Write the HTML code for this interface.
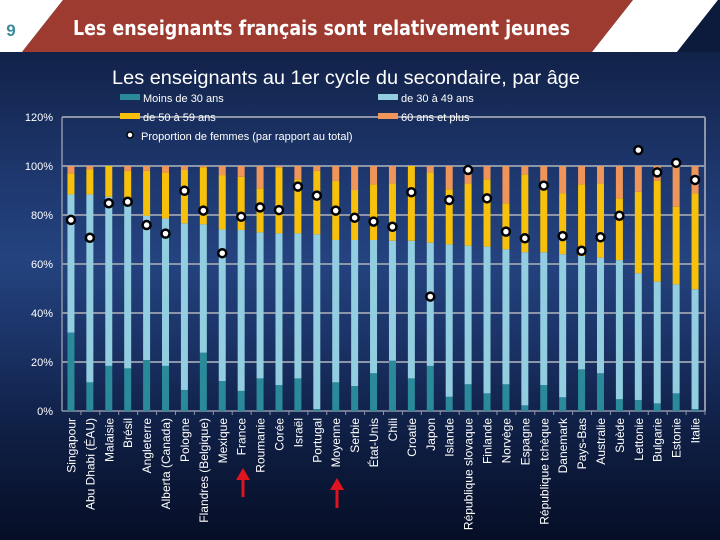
<!DOCTYPE html>
<html><head><meta charset="utf-8">
<style>
html,body{margin:0;padding:0}
body{width:720px;height:540px;overflow:hidden;position:relative;font-family:"Liberation Sans",sans-serif;
background:linear-gradient(180deg,#0c1a3c 0px,#13254e 70px,#1e386f 180px,#24437f 260px,#1b3367 340px,#0f1f45 430px,#060e26 540px);}
svg{position:absolute;left:0;top:0}
</style></head>
<body>
<svg width="720" height="540">
  <polygon points="0,0 63,0 22,52 0,52" fill="#ffffff"/>
  <polygon points="63,0 633,0 592,52 22,52" fill="#9e3b31"/>
  <polygon points="633,0 718,0 677,52 592,52" fill="#ffffff"/>
  <polygon points="718,0 720,0 720,52 677,52" fill="#0c1a3c"/>
  <text x="11" y="36" font-size="17" font-weight="bold" fill="#3d8a9a" text-anchor="middle">9</text>
  <text x="73" y="35" font-size="20" font-weight="bold" fill="#ffffff" font-family="DejaVu Sans, Liberation Sans, sans-serif" textLength="497" lengthAdjust="spacingAndGlyphs">Les enseignants français sont relativement jeunes</text>
  <text x="112" y="84" font-size="19" fill="#ffffff" textLength="468" lengthAdjust="spacingAndGlyphs">Les enseignants au 1er cycle du secondaire, par âge</text>
  <g id="plot"></g>
  <g id="legend">
    <rect x="120" y="94" width="20" height="6" fill="#2a8a9a"/>
    <text x="143" y="102" font-size="11" fill="#fff">Moins de 30 ans</text>
    <rect x="378" y="94" width="20" height="6" fill="#92cde0"/>
    <text x="401" y="102" font-size="11" fill="#fff">de 30 à 49 ans</text>
    <rect x="120" y="113" width="20" height="6" fill="#f7c00a"/>
    <text x="143" y="121" font-size="11" fill="#fff">de 50 à 59 ans</text>
    <rect x="378" y="113" width="20" height="6" fill="#f0955a"/>
    <text x="401" y="121" font-size="11" fill="#fff">60 ans et plus</text>
    <circle cx="130" cy="135" r="3" fill="#fff" stroke="#000" stroke-width="1.5"/>
    <text x="141" y="140" font-size="11" fill="#fff">Proportion de femmes (par rapport au total)</text>
  </g>
  <g>
    <line x1="243" y1="497" x2="243" y2="478" stroke="#e0141e" stroke-width="3"/>
    <polygon points="236,480 250,480 243,468" fill="#e0141e"/>
  </g>
  <g>
    <line x1="337" y1="508" x2="337" y2="488" stroke="#e0141e" stroke-width="3"/>
    <polygon points="330,490 344,490 337,478" fill="#e0141e"/>
  </g>
</svg>
<script>
const categories=["Singapour","Abu Dhabi (ÉAU)","Malaisie","Brésil","Angleterre","Alberta (Canada)","Pologne","Flandres (Belgique)","Mexique","France","Roumanie","Corée","Israël","Portugal","Moyenne","Serbie","État-Unis","Chili","Croatie","Japon","Islande","République slovaque","Finlande","Norvège","Espagne","République tchèque","Danemark","Pays-Bas","Australie","Suède","Lettonie","Bulgarie","Estonie","Italie"];
const under30=[32,11.7,18.4,17.4,20.8,18.4,8.6,23.8,12.2,8.2,13.3,10.6,13.3,0.8,11.7,10.2,15.4,20.5,13.3,18.4,5.8,10.9,7.2,10.9,2.3,10.6,5.6,17,15.4,4.8,4.5,3.1,7.2,0.8];
const age30to49=[56.4,76.7,69.1,69.1,58.9,60.2,68,52.4,61.9,65.7,59.6,61.9,59.2,71.3,58.1,59.6,54.4,49,56.2,50.3,62.2,56.6,59.9,55.1,62.5,54.2,58.4,46.3,47.2,56.8,51.7,49.7,44.5,48.9];
const age50to59=[8.6,10.2,12.5,11.5,18.3,18.8,21.8,23.3,22.2,21.7,18,27,22.1,25.9,24.1,20.4,22.7,23.4,30.5,28.7,22.5,25.4,27.5,18.8,31.8,27,24.8,29.2,30.3,25.2,33.3,41.2,31.7,39.1];
const over60=[3,1.4,0,2,2,2.6,1.6,0.5,3.7,4.4,9.1,0.5,5.4,2,6.1,9.8,7.5,7.1,0,2.6,9.5,7.1,5.4,15.2,3.4,8.2,11.2,7.5,7.1,13.2,10.5,6,16.6,11.2];
const women=[78,70.7,84.8,85.4,75.9,72.4,89.9,81.8,64.4,79.3,83.1,82,91.6,87.9,81.8,78.9,77.3,75.2,89.3,46.7,86.1,98.4,86.8,73.2,70.5,92,71.4,65.4,70.9,79.7,106.5,97.4,101.3,94.3];
const yTicks=[0,20,40,60,80,100,120];
const yTickLabels=["0%","20%","40%","60%","80%","100%","120%"];

const NS="http://www.w3.org/2000/svg";
const plot=document.getElementById('plot');
const X0=62,X1=705,Y0=411,YT=117;
function y(v){return Y0-(v/120)*(Y0-YT);}
const step=(X1-X0)/categories.length;
function x(i){return X0+step*(i+0.5)-0.5;}
function mk(tag,attrs,parent){const e=document.createElementNS(NS,tag);for(const k in attrs)e.setAttribute(k,attrs[k]);(parent||plot).appendChild(e);return e;}

yTicks.forEach((t,i)=>{
  const g=mk('line',{x1:X0,x2:(t===120?512:X1),y1:y(t),y2:y(t),stroke:'#8d95a8','stroke-width':t===0?1.5:2});
  
  
  const lb=mk('text',{x:53,y:y(t)+4,'font-size':11,fill:'#fff','text-anchor':'end'});
  lb.textContent=yTickLabels[i];
  
  
});
const fr=mk('line',{x1:X0,x2:X0,y1:YT,y2:Y0,stroke:'#8d95a8','stroke-width':1.5});


const fr2=mk('line',{x1:X1,x2:X1,y1:YT,y2:Y0,stroke:'#8d95a8','stroke-width':2});


const fr3=mk('line',{x1:512,x2:X1,y1:YT,y2:YT,stroke:'#8d95a8','stroke-width':2});



const series=[[under30,'#2a8a9a','under30'],[age30to49,'#92cde0','30-49'],[age50to59,'#f7c00a','50-59'],[over60,'#f0955a','60plus']];
categories.forEach((c,i)=>{
  let cum=0;
  series.forEach(([arr,col,nm])=>{
    const v=arr[i];
    if(v>0){
      const r=mk('rect',{x:x(i)-3.5,y:y(cum+v),width:7,height:y(cum)-y(cum+v),fill:col});
      
      
    }
    cum+=v;
  });
  const tk=mk('line',{x1:X0+step*(i+1),x2:X0+step*(i+1),y1:Y0,y2:Y0+4,stroke:'#8d95a8','stroke-width':1});
  
  
  const t=mk('text',{x:0,y:0,'font-size':12,fill:'#fff','text-anchor':'end',transform:'translate('+(x(i)+4.5)+',418) rotate(-90)'});
  t.textContent=c;
  
  
});
categories.forEach((c,i)=>{
  const d=mk('circle',{cx:x(i),cy:y(women[i]),r:4,fill:'#fff',stroke:'#000','stroke-width':2.5});
  
  
});
</script>
</body></html>
